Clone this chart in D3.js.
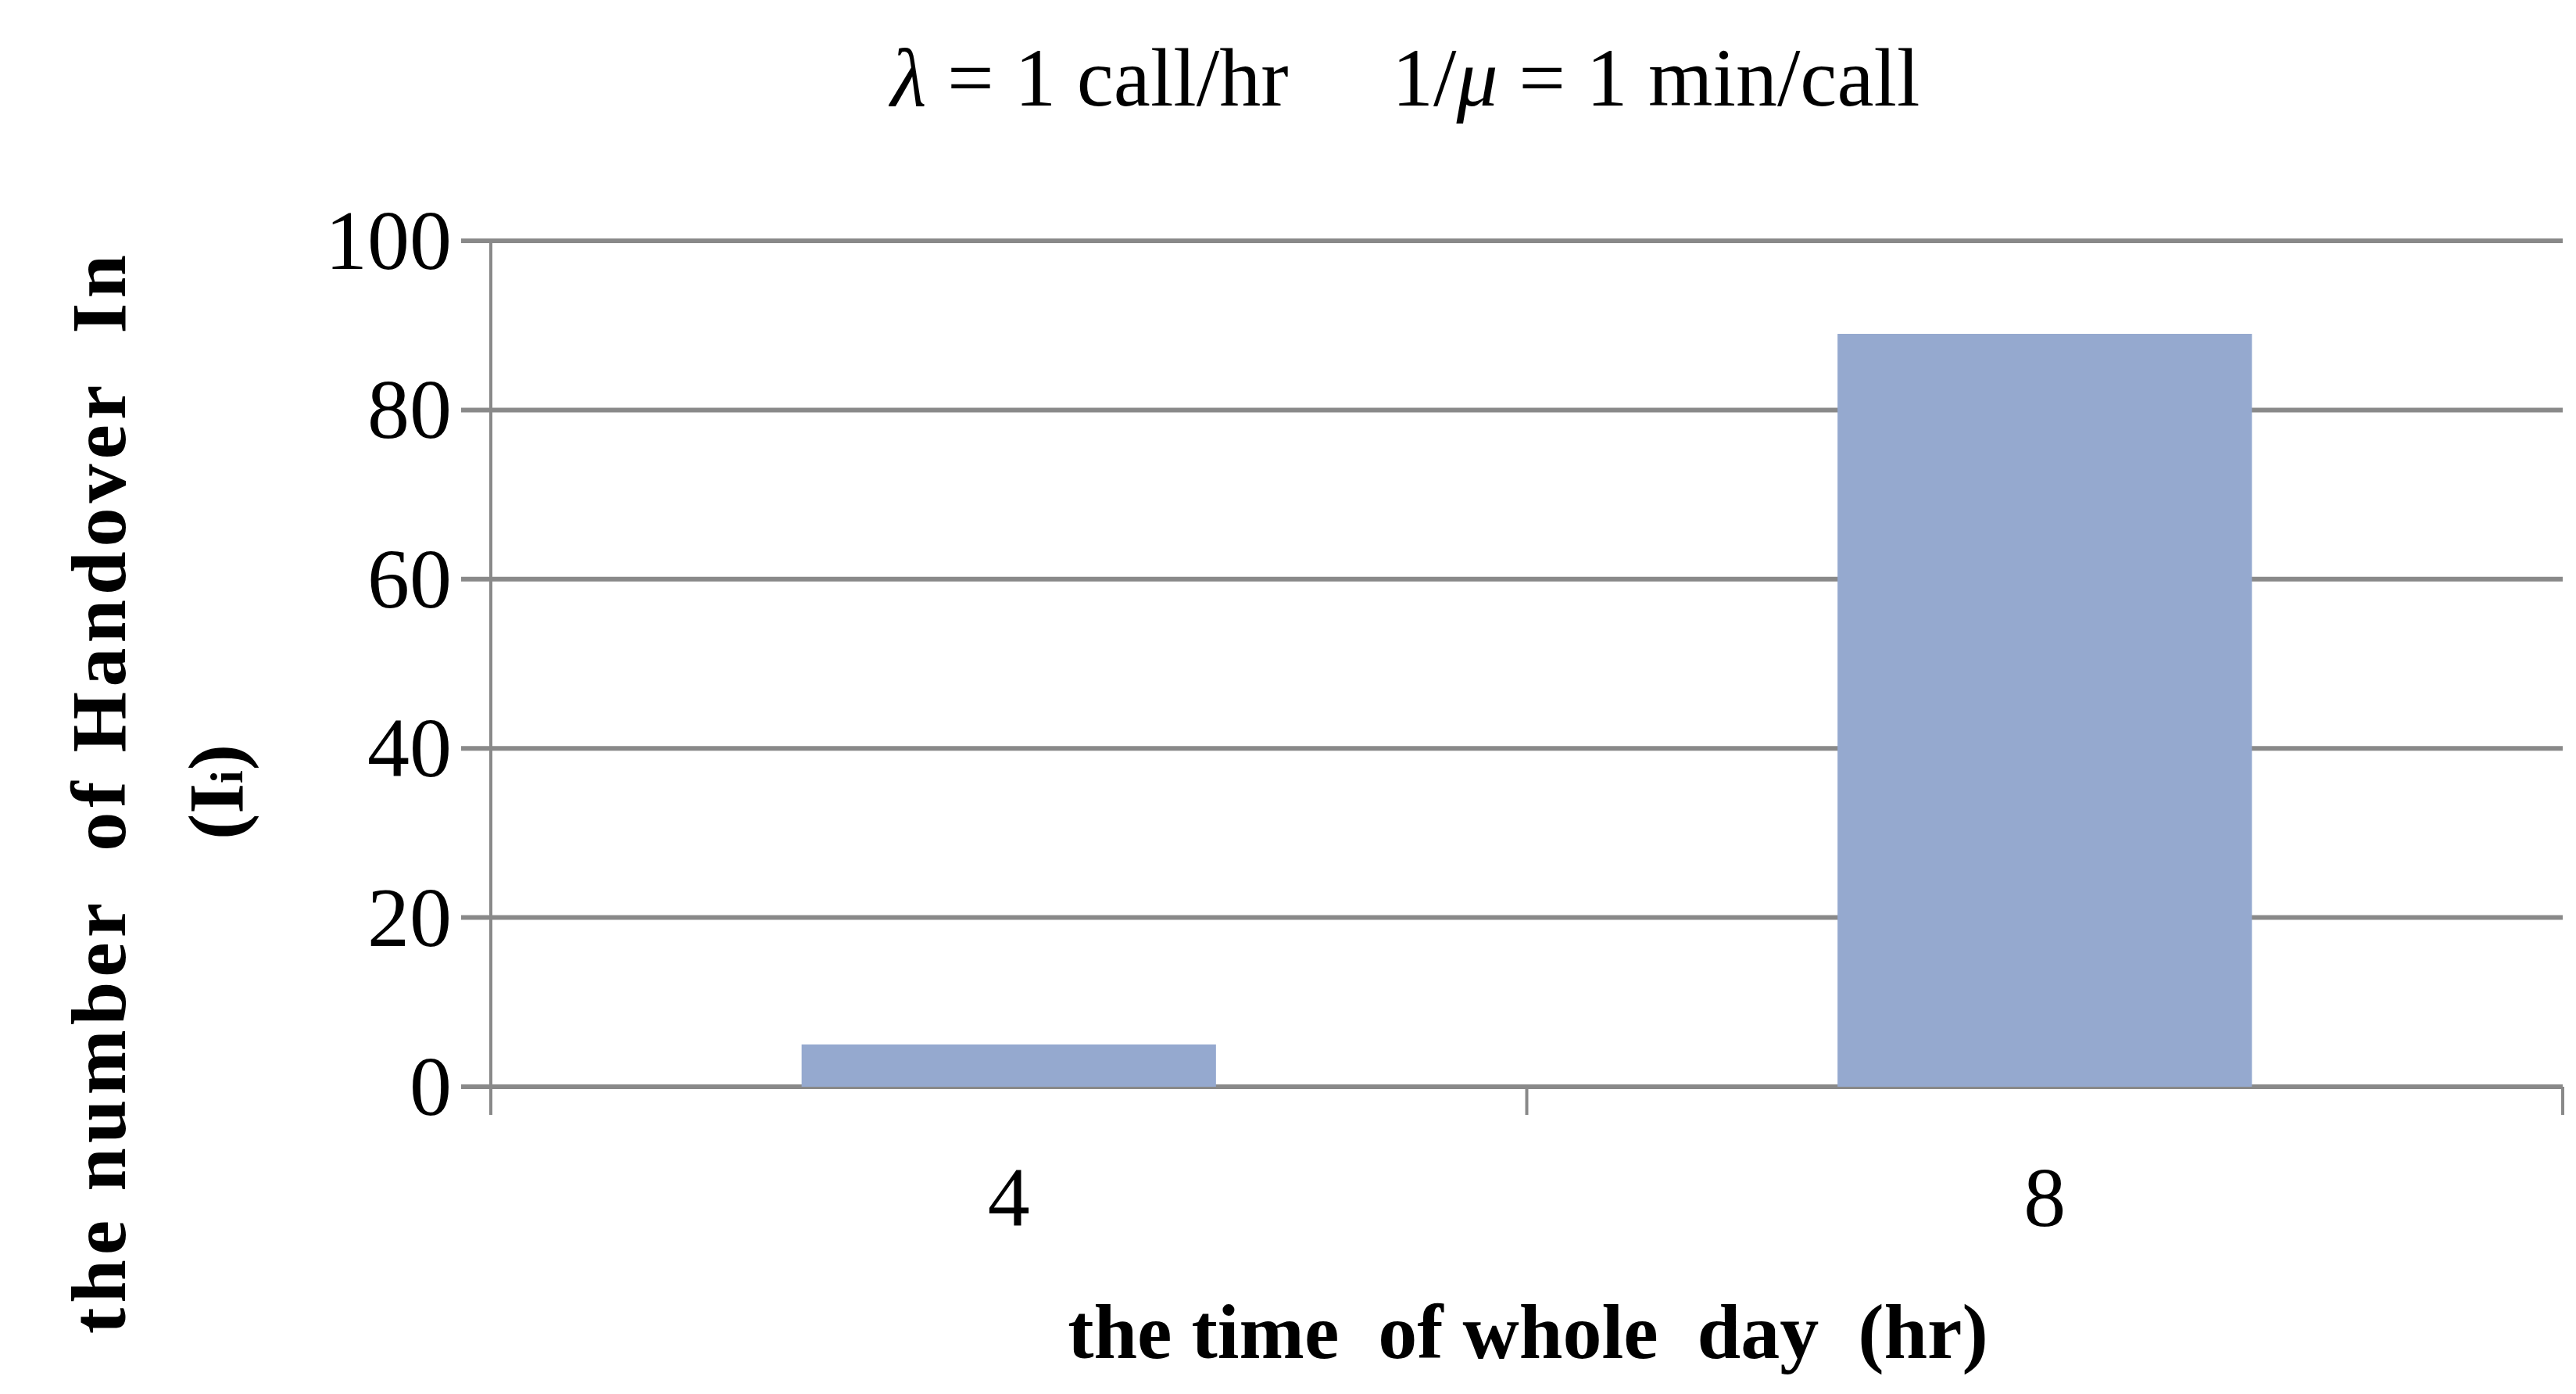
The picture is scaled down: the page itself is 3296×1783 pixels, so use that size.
<!DOCTYPE html>
<html><head><meta charset="utf-8">
<script src="https://cdn.jsdelivr.net/npm/d3@7"></script>
<style>body{margin:0;background:#fff}</style></head>
<body><svg id="c" width="3296" height="1783"></svg>
<script>
const categories = ["4", "8"];
const values = [5, 89];
const yTicks = [0, 20, 40, 60, 80, 100];

const svg = d3.select("#c");
const L = 628, R = 3279, T = 308, B = 1390;
const x = d3.scaleBand().domain(categories).range([L, R]).paddingInner(0.6).paddingOuter(0.3);
const xb = d3.scaleBand().domain(categories).range([L, R]);
const y = d3.scaleLinear().domain([0, 100]).range([B, T]);
const font = "'Liberation Serif','Times New Roman',serif";
const grey = "#898989";

svg.append("g").selectAll("line").data(yTicks).join("line")
  .attr("x1", L - 38).attr("x2", R).attr("y1", d => y(d)).attr("y2", d => y(d))
  .attr("stroke", grey).attr("stroke-width", 6);
svg.append("line").attr("x1", L).attr("x2", L).attr("y1", T).attr("y2", B + 36)
  .attr("stroke", grey).attr("stroke-width", 4);
const xt = [L, L + xb.bandwidth(), R];
svg.append("g").selectAll("line").data(xt).join("line")
  .attr("x1", d => d).attr("x2", d => d).attr("y1", B).attr("y2", B + 36)
  .attr("stroke", grey).attr("stroke-width", 4);

svg.append("g").selectAll("rect").data(values).join("rect")
  .attr("x", (d, i) => x(categories[i])).attr("width", x.bandwidth())
  .attr("y", d => y(d)).attr("height", d => B - y(d)).attr("fill", "#95A9CF");

svg.append("g").selectAll("text").data(yTicks).join("text")
  .attr("x", L - 50).attr("y", d => y(d) + 36).attr("text-anchor", "end")
  .attr("font-family", font).attr("font-size", 108).text(d => d);
svg.append("g").selectAll("text").data(categories).join("text")
  .attr("x", d => xb(d) + xb.bandwidth() / 2).attr("y", 1568).attr("text-anchor", "middle")
  .attr("font-family", font).attr("font-size", 108).text(d => d);

const t = svg.append("text").attr("x", 1798).attr("y", 135).attr("text-anchor", "middle")
  .attr("font-family", font).attr("font-size", 106).attr("xml:space", "preserve");
t.append("tspan").attr("font-style", "italic").text("λ");
t.append("tspan").text(" = 1 call/hr     1/");
t.append("tspan").attr("font-style", "italic").text("μ");
t.append("tspan").text(" = 1 min/call");

svg.append("text").attr("x", 1955).attr("y", 1737).attr("text-anchor", "middle")
  .attr("font-family", font).attr("font-size", 100).attr("font-weight", "bold")
  .attr("xml:space", "preserve").text("the time  of whole  day  (hr)");

const yt = svg.append("g").attr("transform", "translate(160,1013) rotate(-90)");
yt.append("text").attr("text-anchor", "middle").attr("font-family", font)
  .attr("font-size", 100).attr("font-weight", "bold").attr("letter-spacing", 6)
  .attr("xml:space", "preserve").text("the number  of Handover  In");
const l2 = yt.append("text").attr("y", 150).attr("text-anchor", "middle").attr("font-family", font)
  .attr("font-size", 100).attr("font-weight", "bold");
l2.append("tspan").text("(I");
l2.append("tspan").attr("font-size", 60).text("i");
l2.append("tspan").text(")");
</script></body></html>
